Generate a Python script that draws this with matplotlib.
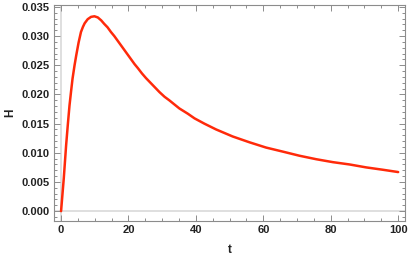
import matplotlib.pyplot as plt
from matplotlib.ticker import MultipleLocator

# values
t = [0, 0.8, 1.5, 2.0, 2.5, 3.0, 3.4, 4.0, 4.5, 5.2, 5.9, 6.5, 7.0, 7.9, 8.9,
     9.9, 10.9, 11.9, 12.8, 13.8, 14.8, 15.8, 16.8, 17.8, 18.8, 19.8, 20.8,
     21.8, 22.8, 24.0, 25.2, 26.2, 27.7, 29.2, 30.7, 32.1, 33.6, 35.1, 37.6,
     39.6, 42.5, 46.0, 50.9, 55.9, 60.8, 65.8, 70.7, 75.7, 80.6, 85.6, 90.5,
     95.4, 100]
H = [0, 0.0056, 0.0113, 0.0148, 0.0181, 0.0207, 0.0227, 0.0250, 0.0267, 0.0289,
     0.0307, 0.0316, 0.0322, 0.0329, 0.0333, 0.0334, 0.0332, 0.0327, 0.0321,
     0.0315, 0.0307, 0.0300, 0.0292, 0.0284, 0.0276, 0.0268, 0.0260, 0.0252,
     0.0245, 0.0236, 0.0228, 0.0222, 0.0213, 0.0204, 0.0196, 0.0190, 0.0183,
     0.0176, 0.0167, 0.0159, 0.0150, 0.0140, 0.0128, 0.0118, 0.0109, 0.0102,
     0.0095, 0.0089, 0.0084, 0.0080, 0.0075, 0.0071, 0.0067]

xticks = [0, 20, 40, 60, 80, 100]
yticks = [0.000, 0.005, 0.010, 0.015, 0.020, 0.025, 0.030, 0.035]

plt.rcParams['font.family'] = ['Liberation Sans', 'DejaVu Sans']

fig = plt.figure(figsize=(4.09, 2.61), dpi=100)
ax = fig.add_axes([0.132, 0.153, 0.858, 0.828])

# light gray axes through the origin
ax.axhline(0, color='#d9d9d9', lw=1.2, zorder=1)
ax.axvline(0, color='#d9d9d9', lw=1.2, zorder=1)

ax.plot(t, H, color='#ff2a0a', lw=1.8, solid_capstyle='round',
        solid_joinstyle='round', zorder=3)

ax.set_xlim(-2.1, 102)
ax.set_ylim(-0.0017, 0.03534)
ax.set_xticks(xticks)
ax.set_yticks(yticks)
ax.set_yticklabels([f'{v:.3f}' for v in yticks])
ax.xaxis.set_minor_locator(MultipleLocator(5))
ax.yaxis.set_minor_locator(MultipleLocator(0.001))

for s in ax.spines.values():
    s.set_color('#8c8c8c')
    s.set_linewidth(0.8)

ax.tick_params(which='both', direction='in', top=True, right=True,
               colors='#8c8c8c', labelcolor='#222222', width=0.7)
ax.tick_params(which='major', length=4, labelsize=8, pad=3)
ax.tick_params(which='minor', length=2)
for lab in ax.get_xticklabels() + ax.get_yticklabels():
    lab.set_fontweight('bold')

ax.set_xlabel('t', fontsize=8.5, fontweight='bold', color='#222222', labelpad=6)
ax.set_ylabel('H', fontsize=8.5, fontweight='bold', color='#222222', labelpad=4)

fig.savefig('out.png', dpi=100)
